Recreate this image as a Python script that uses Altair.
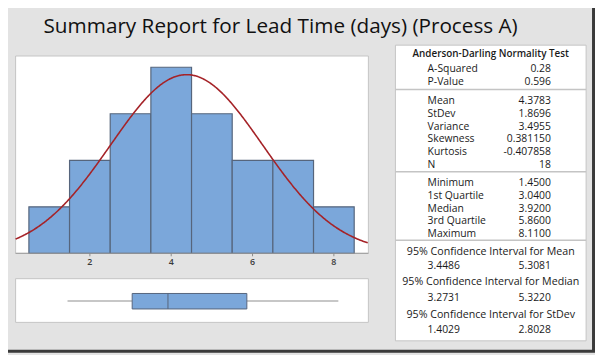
import altair as alt
import pandas as pd

# ---------------- data ----------------
bin_start = [0.5, 1.5, 2.5, 3.5, 4.5, 5.5, 6.5, 7.5]
bin_end = [1.5, 2.5, 3.5, 4.5, 5.5, 6.5, 7.5, 8.5]
counts = [1, 2, 3, 4, 3, 2, 2, 1]
tick_values = [2, 4, 6, 8]

n_obs = 18
mean_val = 4.3783
sd_val = 1.8696
bin_width = 1.0

box_stats = {"min": 1.45, "q1": 3.04, "median": 3.92, "q3": 5.86, "max": 8.11}

title_text = "Summary Report for Lead Time (days) (Process A)"
ad_title = "Anderson-Darling Normality Test"
ad_labels = ["A-Squared", "P-Value"]
ad_values = ["0.28", "0.596"]
moment_labels = ["Mean", "StDev", "Variance", "Skewness", "Kurtosis", "N"]
moment_values = ["4.3783", "1.8696", "3.4955", "0.381150", "-0.407858", "18"]
quant_labels = ["Minimum", "1st Quartile", "Median", "3rd Quartile", "Maximum"]
quant_values = ["1.4500", "3.0400", "3.9200", "5.8600", "8.1100"]
ci_titles = ["95% Confidence Interval for Mean",
             "95% Confidence Interval for Median",
             "95% Confidence Interval for StDev"]
ci_low = ["3.4486", "3.2731", "1.4029"]
ci_high = ["5.3081", "5.3220", "2.8028"]

# ---------------- layout / style ----------------
W, H = 595, 347
BG = "#e3e3e3"
PANEL_BORDER = "#c4c4c4"
BAR_FILL = "#7ba7da"
BAR_STROKE = "#56657c"
CURVE = "#a52328"
TXT = "#1a1a1a"
FONT = "Open Sans"

hx0, hx1, hy0, hy1 = 7.7, 365.3, 46.3, 246.3
xscale = alt.Scale(domain=[0.173, 8.849], range=[hx0, hx1], nice=False, zero=False)
yscale = alt.Scale(domain=[0, 4.242], range=[hy1, hy0], nice=False, zero=False)

one = pd.DataFrame({"a": [0]})


def rect(x0, x1, y0, y1, fill, stroke=None, sw=1):
    kw = dict(fill=fill)
    if stroke:
        kw.update(stroke=stroke, strokeWidth=sw)
    return alt.Chart(one).mark_rect(**kw).encode(
        x=alt.value(x0), x2=alt.value(x1), y=alt.value(y0), y2=alt.value(y1))


def hline(x0, x1, y, color, sw=1):
    return alt.Chart(one).mark_rule(color=color, strokeWidth=sw).encode(
        x=alt.value(x0), x2=alt.value(x1), y=alt.value(y))


def label(txt, x, y, align="left", size=10.5, weight="normal", color=TXT, font=FONT):
    return alt.Chart(one).mark_text(
        text=txt, align=align, baseline="middle", fontSize=size,
        fontWeight=weight, color=color, font=font).encode(
        x=alt.value(x), y=alt.value(y))


layers = []

# outer frame (right & bottom visible part)
layers.append(alt.Chart(one).mark_rect(fill=BG, stroke="#3a3a3a", strokeWidth=3).encode(
    x=alt.value(-10), x2=alt.value(W - 1.5), y=alt.value(-10), y2=alt.value(H - 1.5)))

# title
layers.append(label(title_text, 36, 17, size=21, weight="normal", color="#111111"))

# histogram panel
layers.append(rect(hx0, hx1, hy0, hy1, "white", PANEL_BORDER))

hist_df = pd.DataFrame({"start": bin_start, "end": bin_end, "count": counts})
layers.append(alt.Chart(hist_df).mark_rect(fill=BAR_FILL, stroke=BAR_STROKE, strokeWidth=1.2).encode(
    x=alt.X("start:Q", scale=xscale, axis=None),
    x2="end:Q",
    y=alt.Y("count:Q", scale=yscale, axis=None),
    y2=alt.datum(0),
))

curve = alt.Chart(alt.sequence(0.173, 8.85, 0.02, as_="xv")).transform_calculate(
    dens=f"{n_obs} * {bin_width} * densityNormal(datum.xv, {mean_val}, {sd_val})"
).mark_line(color=CURVE, strokeWidth=1.6).encode(
    x=alt.X("xv:Q", scale=xscale, axis=None),
    y=alt.Y("dens:Q", scale=yscale, axis=None),
)
layers.append(curve)

# axis line, ticks, labels
layers.append(hline(hx0, hx1, hy1, "#9a9a9a", 1))
tick_df = pd.DataFrame({"t": tick_values, "lab": [str(v) for v in tick_values]})
layers.append(alt.Chart(tick_df).mark_rule(color="#8a8a8a").encode(
    x=alt.X("t:Q", scale=xscale, axis=None), y=alt.value(hy1), y2=alt.value(hy1 + 3)))
layers.append(alt.Chart(tick_df).mark_text(
    fontSize=9, fontWeight=600, color="#3a3a3a", font=FONT, baseline="middle").encode(
    x=alt.X("t:Q", scale=xscale, axis=None), y=alt.value(255.5), text="lab:N"))

# boxplot panel
bx_y0, bx_y1 = 272, 316.3
layers.append(rect(hx0, hx1, bx_y0, bx_y1, "white", PANEL_BORDER))
wy = 294.7
whisk_df = pd.DataFrame({"a": [box_stats["min"], box_stats["q3"]],
                         "b": [box_stats["q1"], box_stats["max"]]})
layers.append(alt.Chart(whisk_df).mark_rule(color="#b5b5b5", strokeWidth=1.6).encode(
    x=alt.X("a:Q", scale=xscale, axis=None), x2="b:Q", y=alt.value(wy)))
box_df = pd.DataFrame({"q1": [box_stats["q1"]], "q3": [box_stats["q3"]], "med": [box_stats["median"]]})
layers.append(alt.Chart(box_df).mark_rect(fill=BAR_FILL, stroke=BAR_STROKE, strokeWidth=1).encode(
    x=alt.X("q1:Q", scale=xscale, axis=None), x2="q3:Q", y=alt.value(287), y2=alt.value(302.7)))
layers.append(alt.Chart(box_df).mark_rule(color=BAR_STROKE, strokeWidth=1).encode(
    x=alt.X("med:Q", scale=xscale, axis=None), y=alt.value(287), y2=alt.value(302.7)))

# stats table
tx0, tx1, ty0, ty1 = 392.7, 586, 35.3, 335
layers.append(rect(tx0, tx1, ty0, ty1, "white", PANEL_BORDER))
for sy in [80.3, 163.7, 233]:
    layers.append(hline(tx0, tx1, sy, PANEL_BORDER, 1.5))

cx = (tx0 + tx1) / 2
lx, rx = 425.3, 550.3
layers.append(label(ad_title, cx, 44.5, align="center", size=10, weight=600))
for i, (l, v) in enumerate(zip(ad_labels, ad_values)):
    y = 59.7 + 13.3 * i
    layers.append(label(l, lx, y))
    layers.append(label(v, rx, y, align="right"))
for i, (l, v) in enumerate(zip(moment_labels, moment_values)):
    y = 92 + 12.95 * i
    layers.append(label(l, lx, y))
    layers.append(label(v, rx, y, align="right"))
for i, (l, v) in enumerate(zip(quant_labels, quant_values)):
    y = 175 + 13 * i
    layers.append(label(l, lx, y))
    layers.append(label(v, rx, y, align="right"))
ci_title_y = [244.5, 275.5, 309]
ci_val_y = [259.5, 292, 323.7]
for t, lo, hi, yt, yv in zip(ci_titles, ci_low, ci_high, ci_title_y, ci_val_y):
    layers.append(label(t, cx, yt, align="center", size=10.8))
    layers.append(label(lo, lx, yv))
    layers.append(label(hi, rx, yv, align="right"))

chart = alt.layer(*layers).properties(
    width=W, height=H, background=BG, padding=0,
    autosize=alt.AutoSizeParams(type="none"),
).configure_view(stroke=None)

chart.save("out.html", embed_options={"renderer": "svg", "actions": False})
